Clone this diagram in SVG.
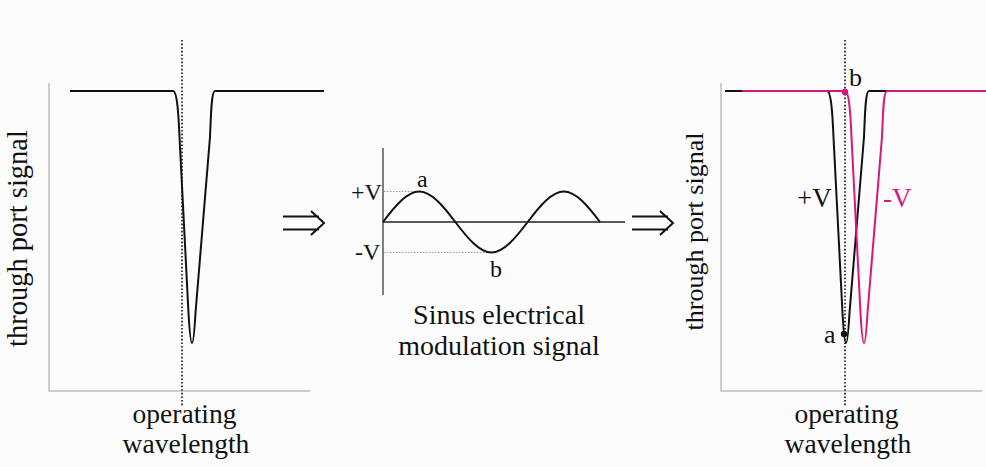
<svg xmlns="http://www.w3.org/2000/svg" xmlns:xlink="http://www.w3.org/1999/xlink" width="986" height="467" viewBox="0 0 986 467" font-family="'Liberation Serif', 'DejaVu Serif', serif">
<style>
text{font-family:'Liberation Serif','DejaVu Serif',serif;fill:#111}
.axis{stroke:#bdbdbd;stroke-width:1.5;fill:none}
.curve{fill:none;stroke-width:2;stroke-linejoin:round}
.dot{stroke:#111;stroke-width:1.6;stroke-dasharray:1.6,2;fill:none}
.gdot{stroke:#999;stroke-width:1.2;stroke-dasharray:1.5,1.5;fill:none}
.arrow{stroke:#111;stroke-width:2;fill:none;stroke-linecap:butt}
.mag{fill:#d6177b}
</style>
<defs>
<path id="dip" d="M-19,0 C-15,0 -13.5,22 -12.5,46 L-3.5,222 Q0,282 3.5,222 L18,46 C19,22 19.5,0 23,0" fill="none"/>
</defs>
<rect width="986" height="467" fill="#fcfcfc"/>

<g id="left-plot">
<path class="axis" d="M49,83 V391 H310"/>
<path class="curve" stroke="#111" d="M70,91 H173 M215,91 H324"/>
<use xlink:href="#dip" href="#dip" x="192" y="91" stroke="#111" stroke-width="2"/>
<line class="dot" x1="182" y1="40" x2="182" y2="406"/>
<text transform="translate(27,238.5) rotate(-90)" text-anchor="middle" font-size="28.5">through port signal</text>
<text x="184.5" y="423" text-anchor="middle" font-size="27.5">operating</text>
<text x="186" y="453" text-anchor="middle" font-size="27.5">wavelength</text>
</g>

<g id="modulation-signal">
<line x1="383" y1="148" x2="383" y2="295" stroke="#555" stroke-width="1.5"/>
<line x1="383" y1="222" x2="625" y2="222" stroke="#222" stroke-width="1.5"/>
<line class="gdot" x1="384" y1="191.5" x2="419" y2="191.5"/>
<line class="gdot" x1="384" y1="252.5" x2="491" y2="252.5"/>
<path class="curve" stroke="#111" d="M383,222 C395.06,206.03 407.1,191.5 419.17,191.5 C431.24,191.5 443.27,206.03 455.33,222 C467.39,237.97 479.43,252.5 491.5,252.5 C503.57,252.5 515.61,237.97 527.67,222 C539.73,206.03 551.77,191.5 563.83,191.5 C575.9,191.5 587.94,206.03 600,222"/>
<text x="351" y="200" font-size="24">+V</text>
<text x="355" y="260" font-size="24">-V</text>
<text x="417" y="187" font-size="24">a</text>
<text x="490" y="277" font-size="24">b</text>
<text x="499" y="324" text-anchor="middle" font-size="28">Sinus electrical</text>
<text x="499" y="355" text-anchor="middle" font-size="28">modulation signal</text>
</g>

<g id="right-plot">
<path class="axis" d="M721,83 V391 H982"/>
<path class="curve" stroke="#111" d="M725,91 H827 M869,91 H887"/>
<use xlink:href="#dip" href="#dip" x="846" y="91" stroke="#111" stroke-width="2"/>
<path class="curve" stroke="#d6177b" d="M742,91 H845 M887,91 H986"/>
<use xlink:href="#dip" href="#dip" x="864" y="91" stroke="#d6177b" stroke-width="2"/>
<line class="dot" x1="845" y1="40" x2="845" y2="406"/>
<circle cx="845" cy="92" r="3.2" class="mag"/>
<circle cx="844" cy="334" r="3.2" fill="#111"/>
<text x="849" y="86" font-size="26">b</text>
<text x="824" y="343" font-size="26">a</text>
<text x="797" y="207" font-size="27">+V</text>
<text x="883" y="207" font-size="27" class="mag">-V</text>
<text transform="translate(703,231.5) rotate(-90)" text-anchor="middle" font-size="26">through port signal</text>
<text x="846.5" y="423" text-anchor="middle" font-size="27.5">operating</text>
<text x="848" y="453" text-anchor="middle" font-size="27.5">wavelength</text>
</g>

<g id="connectors">
<path class="arrow" d="M283,216.5 H319 M283,229.5 H319 M311,211 L324,223 L311,235"/>
<path class="arrow" d="M632,216.5 H668 M632,229.5 H668 M660,211 L673,223 L660,235"/>
</g>
</svg>
